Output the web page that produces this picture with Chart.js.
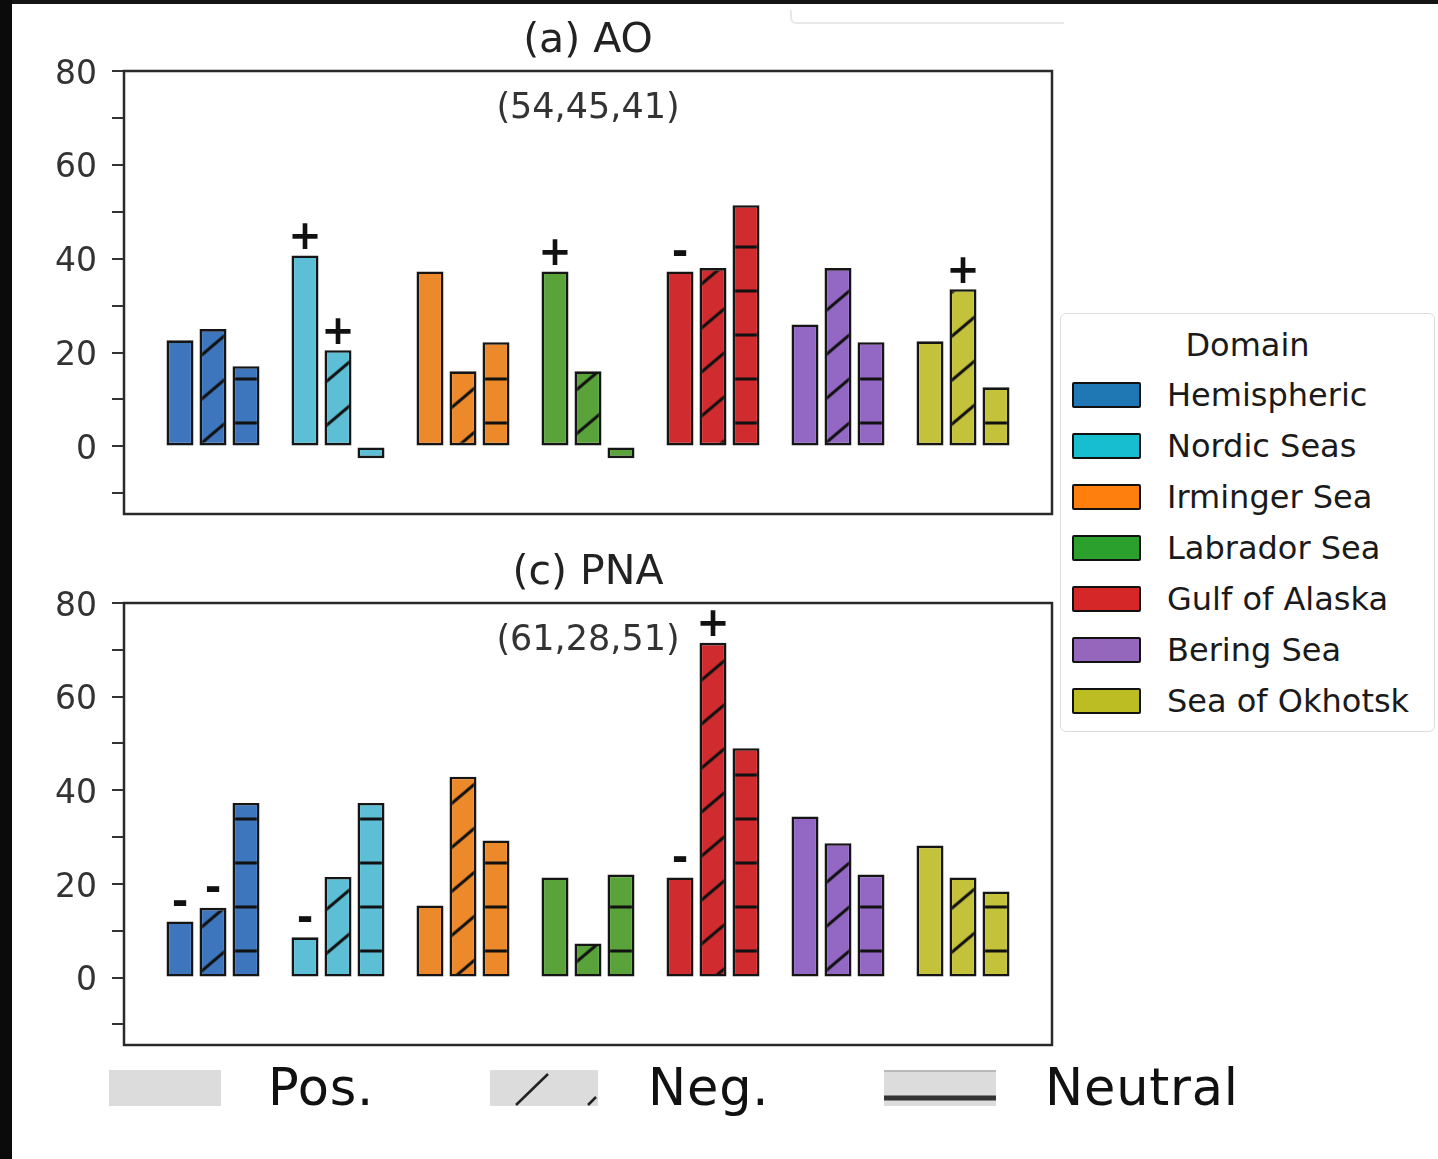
<!DOCTYPE html>
<html>
<head>
<meta charset="utf-8">
<script src="https://cdn.jsdelivr.net/npm/chart.js@4.4.1/dist/chart.umd.min.js"></script>
<style>
  html, body { margin: 0; padding: 0; background: #fff; }
  body { width: 1438px; height: 1159px; position: relative; overflow: hidden; font-family: "DejaVu Sans", sans-serif; }
  .band-top { position: absolute; left: 0; top: 0; width: 1438px; height: 4px; background: #141414; }
  .band-left { position: absolute; left: 0; top: 0; width: 12px; height: 1159px; background: #0b0b0b; }
  .ghost { position: absolute; left: 790px; top: 10px; width: 272px; height: 12px; border-left: 2px solid #e8e8e8; border-bottom: 2px solid #e8e8e8; border-bottom-left-radius: 6px; }
  canvas { position: absolute; left: 0; }
  #legend { position: absolute; left: 1060px; top: 313px; width: 373px; height: 417px; border: 1.5px solid #dcdcdc; border-radius: 6px; background: #fff; }
  #legend .title { position: absolute; left: 0; top: 18px; width: 100%; text-align: center; font-size: 32px; line-height: 26px; color: #1a1a1a; }
  #legend .item { position: absolute; left: 0; width: 100%; height: 26px; }
  #legend .patch { position: absolute; left: 11px; top: 0; width: 65px; height: 22px; border: 2px solid #111; border-radius: 2px; }
  #legend .label { position: absolute; left: 106px; top: 0; font-size: 32px; line-height: 26px; color: #1a1a1a; white-space: nowrap; }
  .key { position: absolute; top: 1070px; height: 36px; }
  .key-text { position: absolute; top: 1062px; font-size: 51px; line-height: 52px; color: #111; letter-spacing: 0.8px; }
</style>
</head>
<body>
<div class="band-top"></div>
<div class="band-left"></div>
<div class="ghost"></div>

<canvas id="aoChart" width="1060" height="570" style="top:0px"></canvas>
<canvas id="pnaChart" width="1060" height="550" style="top:540px"></canvas>

<div id="legend"><div class="title">Domain</div></div>

<svg class="key" style="left:109px" width="112" height="36"><rect width="112" height="36" fill="#dcdcdc"/></svg>
<div class="key-text" style="left:268px">Pos.</div>
<svg class="key" style="left:490px" width="108" height="36">
  <rect width="108" height="36" fill="#dcdcdc"/>
  <line x1="26" y1="35" x2="58" y2="4" stroke="#222" stroke-width="2.5"/>
  <line x1="98" y1="35" x2="106" y2="27" stroke="#222" stroke-width="2.5"/>
</svg>
<div class="key-text" style="left:648px">Neg.</div>
<svg class="key" style="left:884px" width="112" height="36">
  <rect width="112" height="36" fill="#dcdcdc"/>
  <line x1="0" y1="1" x2="112" y2="1" stroke="#b8b8b8" stroke-width="2"/>
  <line x1="0" y1="28" x2="112" y2="28" stroke="#333" stroke-width="5"/>
</svg>
<div class="key-text" style="left:1045px">Neutral</div>

<script>
// --- Data ---
const domains = ['Hemispheric', 'Nordic Seas', 'Irminger Sea', 'Labrador Sea', 'Gulf of Alaska', 'Bering Sea', 'Sea of Okhotsk'];
const legendColors = ['#1f77b4', '#17becf', '#ff7f0e', '#2ca02c', '#d62728', '#9467bd', '#bcbd22'];
const barColors = ['#3d76bd', '#5dbfd6', '#ec8a2b', '#5aa33b', '#d02b2e', '#9368c5', '#c4c23a'];

// (a) AO
const aoPos = [22.6, 40.7, 37.3, 37.3, 37.3, 26.0, 22.4];
const aoNeg = [25.0, 20.5, 16.0, 16.0, 38.0, 38.0, 33.5];
const aoNeu = [17.1, -2.5, 22.2, -2.5, 51.4, 22.2, 12.6];
const aoPosSig = ['', '+', '', '+', '-', '', ''];
const aoNegSig = ['', '+', '', '', '', '', '+'];
const aoNeuSig = ['', '', '', '', '', '', ''];

// (c) PNA
const pnaPos = [12.0, 8.6, 15.4, 21.4, 21.4, 34.4, 28.2];
const pnaNeg = [14.9, 21.5, 42.9, 7.3, 71.5, 28.7, 21.4];
const pnaNeu = [37.3, 37.3, 29.3, 22.0, 49.0, 22.0, 18.4];
const pnaPosSig = ['-', '-', '', '', '-', '', ''];
const pnaNegSig = ['-', '', '', '', '+', '', ''];
const pnaNeuSig = ['', '', '', '', '', '', ''];

const yMin = -14.4, yMax = 80, tickStep = 10, labelStep = 20;

// --- Legend (right) ---
const legendBox = document.getElementById('legend');
domains.forEach((name, i) => {
    const item = document.createElement('div');
    item.className = 'item';
    item.style.top = (68 + i * 51) + 'px';
    item.innerHTML = `<div class="patch" style="background:${legendColors[i]}"></div><div class="label">${name}</div>`;
    legendBox.appendChild(item);
});

// --- Hatches, anchored to the page like matplotlib ---
const HATCH = 44;
function hatchPattern(color, kind, canvasTop) {
    const W = kind === 'neg' ? 52 : 16, H = HATCH;
    const c = document.createElement('canvas');
    c.width = W; c.height = H;
    const g = c.getContext('2d');
    g.fillStyle = color;
    g.fillRect(0, 0, W, H);
    g.strokeStyle = '#111';
    g.lineWidth = 3;
    g.beginPath();
    if (kind === 'neg') {
        for (const k of [-1, 0, 1]) { g.moveTo(-W, 2 * H + k * H); g.lineTo(2 * W, -H + k * H); }
    } else {
        g.moveTo(0, H / 2); g.lineTo(W, H / 2);
    }
    g.stroke();
    const p = g.createPattern(c, 'repeat');
    const anchor = kind === 'neg' ? 41.6 : 27 - H / 2;
    p.setTransform(new DOMMatrix([1, 0, 0, 1, 0, anchor - canvasTop]));
    return p;
}

// --- Frame, titles and significance marks ---
const framePlugin = {
    id: 'frame',
    afterDatasetsDraw(chart, args, opts) {
        const { ctx, chartArea: a } = chart;
        const cx = (a.left + a.right) / 2;
        ctx.save();
        ctx.strokeStyle = '#2a2a2a';
        ctx.lineWidth = 2.5;
        ctx.strokeRect(a.left, a.top, a.right - a.left, a.bottom - a.top);

        ctx.textAlign = 'center';
        ctx.textBaseline = 'alphabetic';
        ctx.fillStyle = '#222';
        ctx.font = '41px "DejaVu Sans"';
        ctx.fillText(opts.title, cx, a.top - 19);
        ctx.fillStyle = '#333';
        ctx.font = '35px "DejaVu Sans"';
        ctx.fillText(opts.counts, cx, a.top + 47);

        ctx.fillStyle = '#111';
        ctx.font = 'bold 40px "DejaVu Sans"';
        ctx.textBaseline = 'middle';
        opts.marks.forEach((marks, d) => {
            const meta = chart.getDatasetMeta(d);
            marks.forEach((m, i) => {
                if (!m) return;
                const bar = meta.data[i];
                ctx.fillText(m, bar.x, bar.y - 17);
            });
        });
        ctx.restore();
    }
};

function makeChart(id, title, counts, pos, neg, neu, marks, pad) {
    const canvas = document.getElementById(id);
    const top = canvas.offsetTop;
    const common = { borderColor: '#151515', borderWidth: 2.6, borderSkipped: false, categoryPercentage: 0.792, barPercentage: 0.818 };
    const toPoints = arr => arr.map((v, i) => ({ x: i, y: v }));
    return new Chart(canvas, {
        type: 'bar',
        data: {
            datasets: [
                Object.assign({ label: 'Pos.', data: toPoints(pos), backgroundColor: barColors }, common),
                Object.assign({ label: 'Neg.', data: toPoints(neg), backgroundColor: barColors.map(c => hatchPattern(c, 'neg', top)) }, common),
                Object.assign({ label: 'Neutral', data: toPoints(neu), backgroundColor: barColors.map(c => hatchPattern(c, 'neu', top)) }, common)
            ]
        },
        options: {
            responsive: false,
            animation: false,
            layout: { padding: pad },
            plugins: {
                legend: { display: false },
                tooltip: { enabled: false },
                frame: { title: title, counts: counts, marks: marks }
            },
            scales: {
                x: {
                    type: 'linear', display: false, offset: false,
                    min: -0.712, max: domains.length - 1 + 0.712,
                    ticks: { stepSize: 1, includeBounds: false }
                },
                y: {
                    min: yMin, max: yMax,
                    border: { display: false },
                    grid: { drawOnChartArea: false, drawTicks: true, tickLength: 12, color: '#333', lineWidth: 2 },
                    ticks: {
                        stepSize: tickStep, includeBounds: false, padding: 15, color: '#333', labelOffset: 4,
                        font: { family: 'DejaVu Sans', size: 33 },
                        callback: v => (v % labelStep === 0 ? String(v) : '')
                    },
                    afterFit: s => { s.width = 124; }
                }
            }
        },
        plugins: [framePlugin]
    });
}

makeChart('aoChart', '(a) AO', '(54,45,41)', aoPos, aoNeg, aoNeu,
    [aoPosSig, aoNegSig, aoNeuSig], { left: 0, right: 8, top: 71, bottom: 56 });
makeChart('pnaChart', '(c) PNA', '(61,28,51)', pnaPos, pnaNeg, pnaNeu,
    [pnaPosSig, pnaNegSig, pnaNeuSig], { left: 0, right: 8, top: 63, bottom: 45 });
</script>
</body>
</html>
